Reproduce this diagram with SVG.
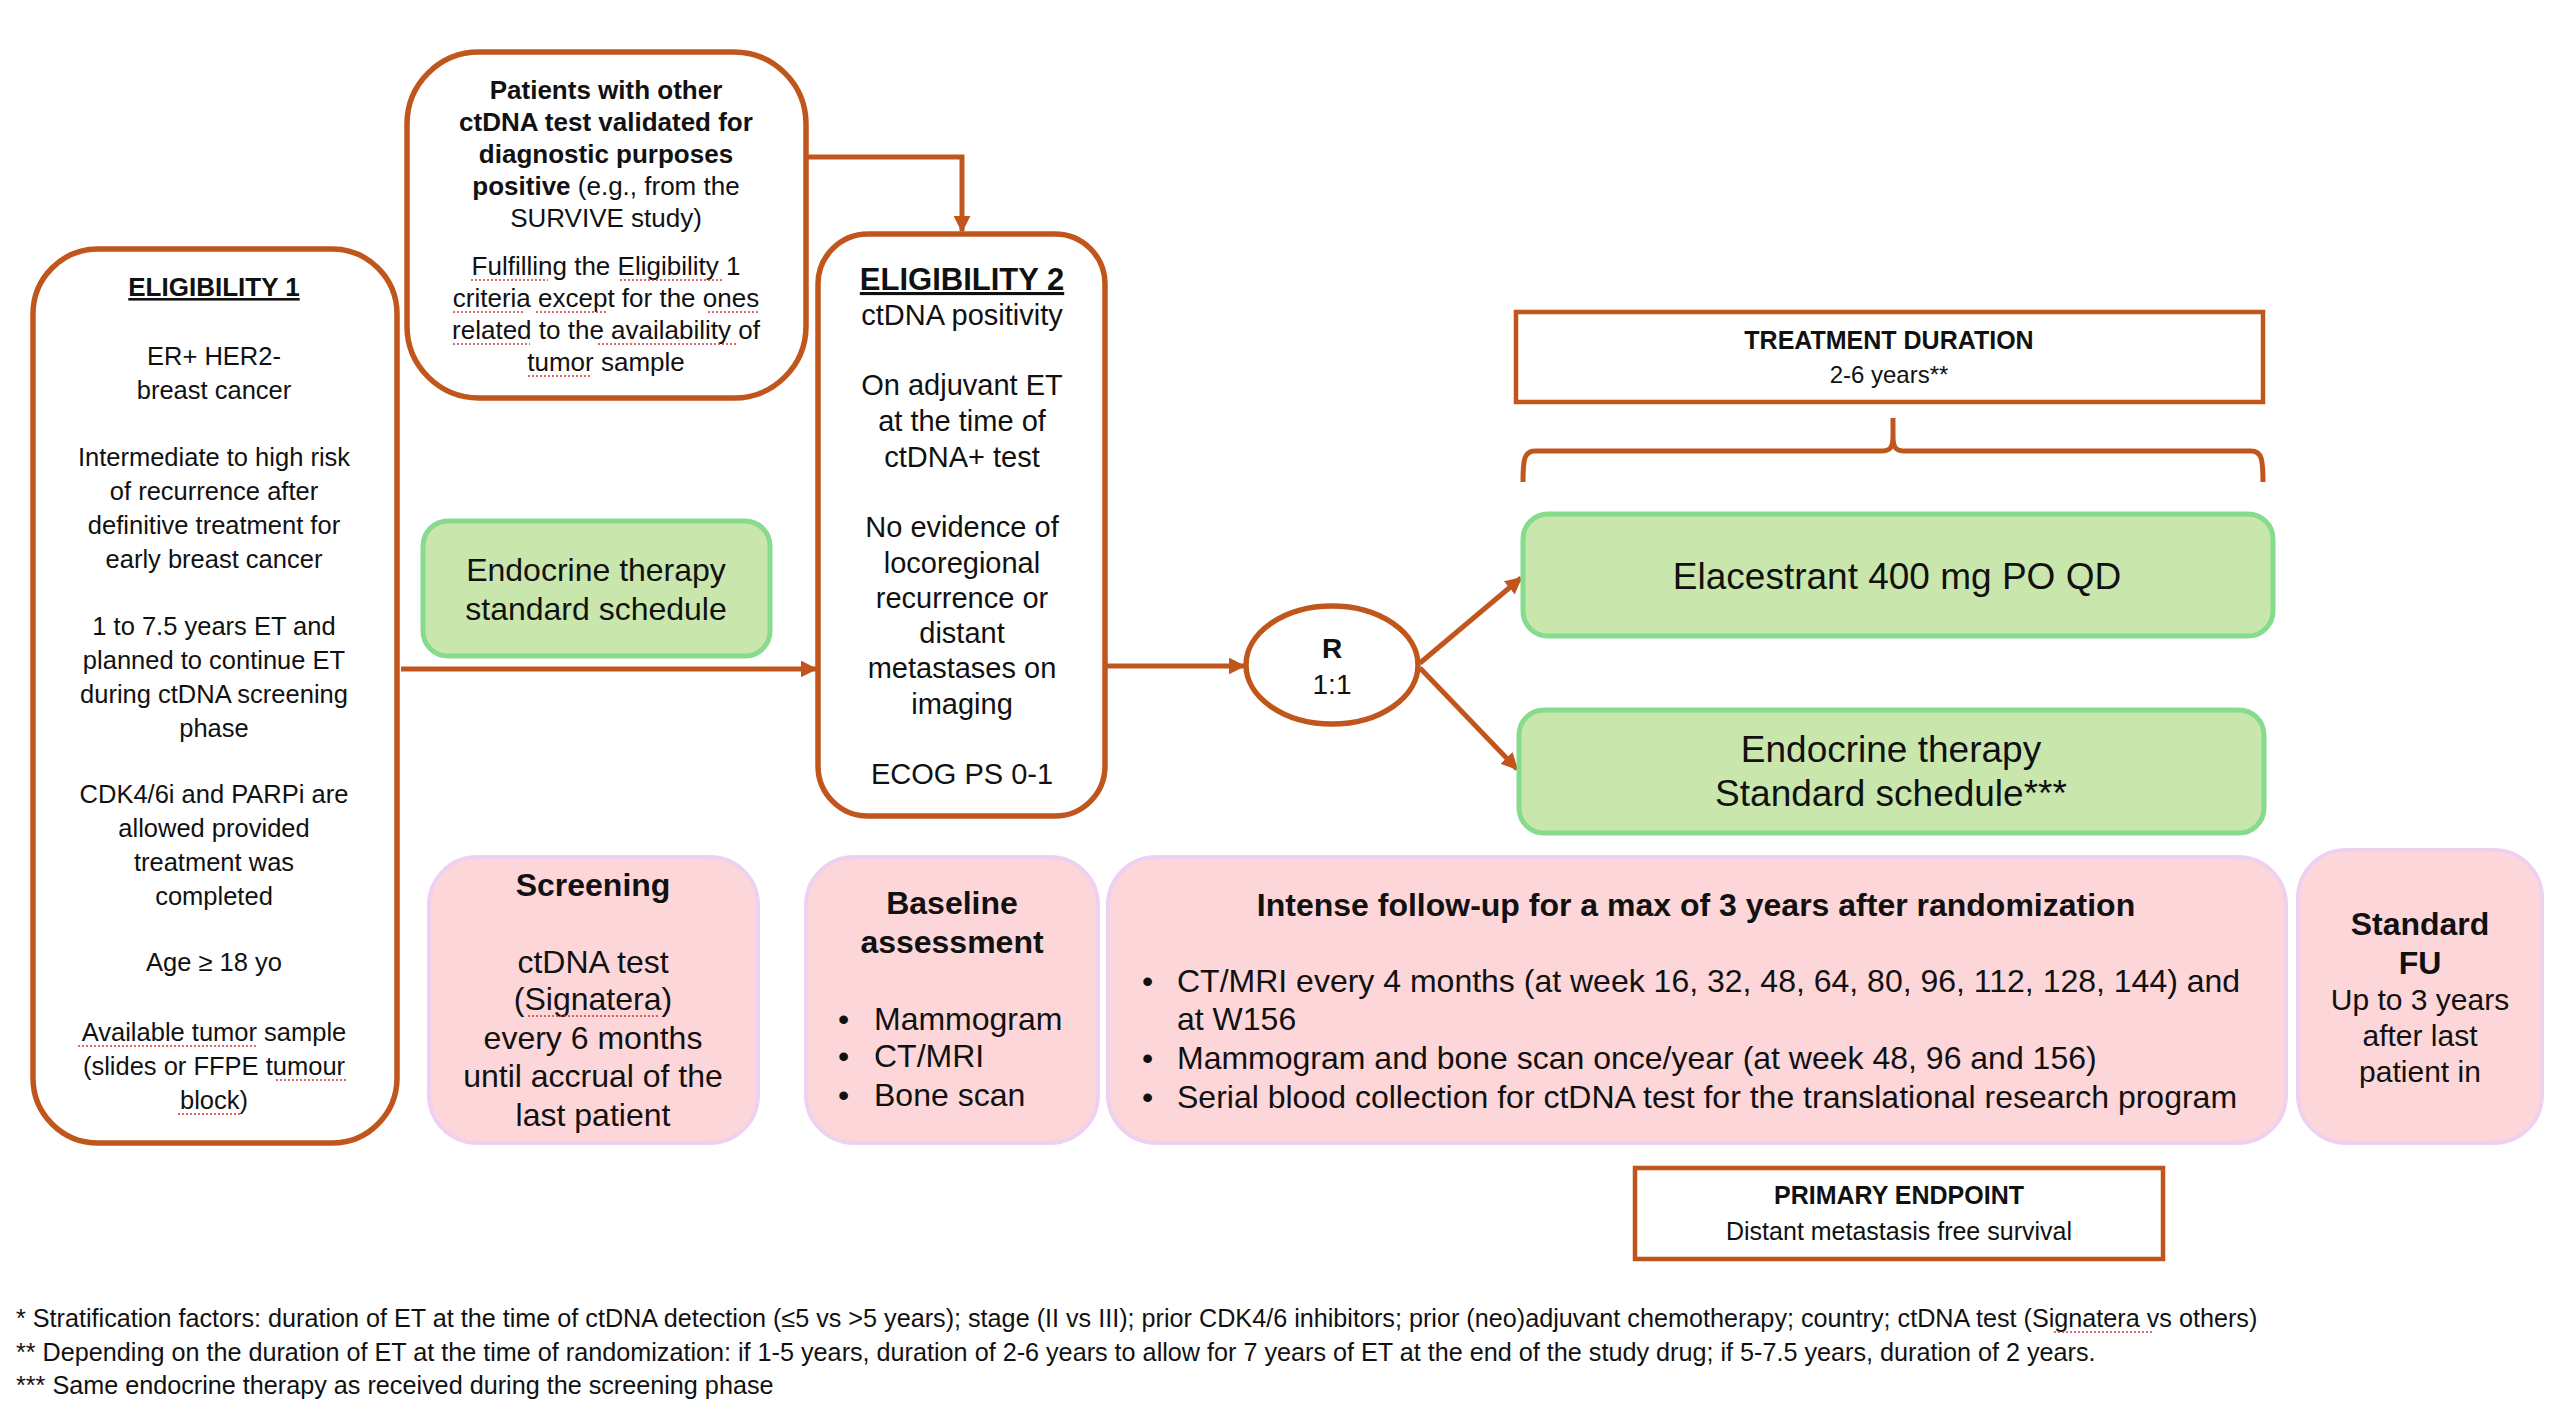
<svg xmlns="http://www.w3.org/2000/svg" width="2560" height="1421" viewBox="0 0 2560 1421">
<defs>
<style>
text{font-family:"Liberation Sans",Arial,sans-serif;fill:#111;}
.c{text-anchor:middle;}
.b{font-weight:bold;}
.ob{fill:#fff;stroke:#C0561C;stroke-width:5.5;}
.gb{fill:#C9E7AD;stroke:#86DC8C;stroke-width:5;}
.pb{fill:#FDD6D9;stroke:#EED0F0;stroke-width:4;}
.conn{fill:none;stroke:#C0561C;stroke-width:5;}
.sp{fill:none;stroke:#D23C3C;stroke-width:1.6;stroke-dasharray:2 2;}
.e1{font-size:25.5px;}
.pt{font-size:26px;}
.e2{font-size:29px;}
.g1{font-size:32px;}
.g2{font-size:37px;}
.pk{font-size:32px;}
.sm{font-size:25px;}
.fn{font-size:25.2px;}
</style>
<marker id="arr" viewBox="0 0 10 10" refX="9" refY="5" markerWidth="17" markerHeight="17" markerUnits="userSpaceOnUse" orient="auto">
<path d="M0,0 L10,5 L0,10 z" fill="#C0561C"/>
</marker>
</defs>
<rect width="2560" height="1421" fill="#fff"/>

<g id="connectors">
<path class="conn" d="M806,157 H962 V231" marker-end="url(#arr)"/>
<path class="conn" d="M401,669 H816" marker-end="url(#arr)"/>
<path class="conn" d="M1105,666 H1244" marker-end="url(#arr)"/>
<path class="conn" d="M1420,663 L1521,578" marker-end="url(#arr)"/>
<path class="conn" d="M1420,668 L1517,769" marker-end="url(#arr)"/>
<path class="conn" d="M1523,482 C1523,460 1524,451 1535,451 L1881,451 C1890,451 1893,448 1893,436 L1893,418 M1893,436 C1893,448 1896,451 1905,451 L2251,451 C2262,451 2263,460 2263,482"/>
</g>

<g id="eligibility1">
<rect class="ob" x="33" y="249" width="364" height="894" rx="65"/>
<text class="c b" x="214" y="296" font-size="26" text-decoration="underline">ELIGIBILITY 1</text>
<text class="c e1" x="214" y="365">ER+ HER2-</text>
<text class="c e1" x="214" y="399">breast cancer</text>
<text class="c e1" x="214" y="466">Intermediate to high risk</text>
<text class="c e1" x="214" y="500">of recurrence after</text>
<text class="c e1" x="214" y="534">definitive treatment for</text>
<text class="c e1" x="214" y="568">early breast cancer</text>
<text class="c e1" x="214" y="635">1 to 7.5 years ET and</text>
<text class="c e1" x="214" y="669">planned to continue ET</text>
<text class="c e1" x="214" y="703">during ctDNA screening</text>
<text class="c e1" x="214" y="737">phase</text>
<text class="c e1" x="214" y="803">CDK4/6i and PARPi are</text>
<text class="c e1" x="214" y="837">allowed provided</text>
<text class="c e1" x="214" y="871">treatment was</text>
<text class="c e1" x="214" y="905">completed</text>
<text class="c e1" x="214" y="971">Age ≥ 18 yo</text>
<text class="c e1" x="214" y="1041">Available tumor sample</text>
<text class="c e1" x="214" y="1075">(slides or FFPE tumour</text>
<text class="c e1" x="214" y="1109">block)</text>
<path class="sp" d="M78,1046 H258 M276,1080 H348 M178,1114 H240"/>
</g>

<g id="other-ctdna">
<rect class="ob" x="407" y="52" width="399" height="346" rx="72"/>
<text class="c b pt" x="606" y="99">Patients with other</text>
<text class="c b pt" x="606" y="131">ctDNA test validated for</text>
<text class="c b pt" x="606" y="163">diagnostic purposes</text>
<text class="c pt" x="606" y="195"><tspan class="b">positive</tspan> (e.g., from the</text>
<text class="c pt" x="606" y="227">SURVIVE study)</text>
<text class="c pt" x="606" y="275">Fulfilling the Eligibility 1</text>
<text class="c pt" x="606" y="307">criteria except for the ones</text>
<text class="c pt" x="606" y="339">related to the availability of</text>
<text class="c pt" x="606" y="371">tumor sample</text>
<path class="sp" d="M471,280 H548 M620,280 H722 M453,312 H524 M536,312 H606 M708,312 H760 M453,344 H530 M598,344 H738 M528,376 H592"/>
</g>

<g id="eligibility2">
<rect class="ob" x="818" y="234" width="287" height="582" rx="50"/>
<text class="c b" x="962" y="290" font-size="31" text-decoration="underline">ELIGIBILITY 2</text>
<text class="c e2" x="962" y="325">ctDNA positivity</text>
<text class="c e2" x="962" y="395">On adjuvant ET</text>
<text class="c e2" x="962" y="431">at the time of</text>
<text class="c e2" x="962" y="467">ctDNA+ test</text>
<text class="c e2" x="962" y="537">No evidence of</text>
<text class="c e2" x="962" y="573">locoregional</text>
<text class="c e2" x="962" y="608">recurrence or</text>
<text class="c e2" x="962" y="643">distant</text>
<text class="c e2" x="962" y="678">metastases on</text>
<text class="c e2" x="962" y="714">imaging</text>
<text class="c e2" x="962" y="784">ECOG PS 0-1</text>
</g>

<g id="et-screening">
<rect class="gb" x="423" y="521" width="347" height="135" rx="25"/>
<text class="c g1" x="596" y="581">Endocrine therapy</text>
<text class="c g1" x="596" y="620">standard schedule</text>
</g>

<g id="randomization">
<ellipse cx="1332" cy="665" rx="86" ry="59" fill="#fff" stroke="#C0561C" stroke-width="5.5"/>
<text class="c b" x="1332" y="658" font-size="28">R</text>
<text class="c" x="1332" y="694" font-size="28">1:1</text>
</g>

<g id="treatment-duration">
<rect x="1516" y="312" width="747" height="90" fill="#fff" stroke="#C0561C" stroke-width="4.5"/>
<text class="c b sm" x="1889" y="349">TREATMENT DURATION</text>
<text class="c" x="1889" y="383" font-size="24">2-6 years**</text>
</g>

<g id="elacestrant">
<rect class="gb" x="1523" y="514" width="750" height="122" rx="25"/>
<text class="c g2" x="1897" y="589">Elacestrant 400 mg PO QD</text>
</g>

<g id="et-standard">
<rect class="gb" x="1519" y="710" width="745" height="123" rx="25"/>
<text class="c g2" x="1891" y="762">Endocrine therapy</text>
<text class="c g2" x="1891" y="806">Standard schedule***</text>
</g>

<g id="screening">
<rect class="pb" x="429" y="857" width="329" height="286" rx="48"/>
<text class="c b pk" x="593" y="896">Screening</text>
<text class="c pk" x="593" y="973">ctDNA test</text>
<text class="c pk" x="593" y="1010">(Signatera)</text>
<text class="c pk" x="593" y="1049">every 6 months</text>
<text class="c pk" x="593" y="1087">until accrual of the</text>
<text class="c pk" x="593" y="1126">last patient</text>
<path class="sp" d="M528,1016 H658"/>
</g>

<g id="baseline">
<rect class="pb" x="806" y="857" width="292" height="286" rx="48"/>
<text class="c b pk" x="952" y="914">Baseline</text>
<text class="c b pk" x="952" y="953">assessment</text>
<text class="pk" x="838" y="1030">•</text><text class="pk" x="874" y="1030">Mammogram</text>
<text class="pk" x="838" y="1067">•</text><text class="pk" x="874" y="1067">CT/MRI</text>
<text class="pk" x="838" y="1106">•</text><text class="pk" x="874" y="1106">Bone scan</text>
</g>

<g id="followup">
<rect class="pb" x="1108" y="857" width="1178" height="286" rx="48"/>
<text class="c b pk" x="1696" y="916">Intense follow-up for a max of 3 years after randomization</text>
<text class="pk" x="1142" y="992">•</text><text class="pk" x="1177" y="992">CT/MRI every 4 months (at week 16, 32, 48, 64, 80, 96, 112, 128, 144) and</text>
<text class="pk" x="1177" y="1030">at W156</text>
<text class="pk" x="1142" y="1069">•</text><text class="pk" x="1177" y="1069">Mammogram and bone scan once/year (at week 48, 96 and 156)</text>
<text class="pk" x="1142" y="1108">•</text><text class="pk" x="1177" y="1108">Serial blood collection for ctDNA test for the translational research program</text>
</g>

<g id="standard-fu">
<rect class="pb" x="2298" y="850" width="244" height="293" rx="48"/>
<text class="c b pk" x="2420" y="935">Standard</text>
<text class="c b pk" x="2420" y="974">FU</text>
<text class="c" x="2420" y="1010" font-size="30">Up to 3 years</text>
<text class="c" x="2420" y="1046" font-size="30">after last</text>
<text class="c" x="2420" y="1082" font-size="30">patient in</text>
</g>

<g id="primary-endpoint">
<rect x="1635" y="1168" width="528" height="91" fill="#fff" stroke="#C0561C" stroke-width="4.5"/>
<text class="c b sm" x="1899" y="1204">PRIMARY ENDPOINT</text>
<text class="c sm" x="1899" y="1240">Distant metastasis free survival</text>
</g>

<g id="footnotes">
<text class="fn" x="16" y="1327">*  Stratification factors: duration of ET at the time of ctDNA detection (≤5 vs &gt;5 years); stage (II vs III); prior CDK4/6 inhibitors; prior (neo)adjuvant chemotherapy; country; ctDNA test (Signatera vs others)</text>
<text class="fn" x="16" y="1361">**  Depending on the duration of ET at the time of randomization: if 1-5 years, duration of 2-6 years to allow for 7 years of ET at the end of the study drug; if 5-7.5 years, duration of 2 years.</text>
<text class="fn" x="16" y="1394">*** Same endocrine therapy as received during the screening phase</text>
<path class="sp" d="M2054,1332 H2152"/>
</g>
</svg>
